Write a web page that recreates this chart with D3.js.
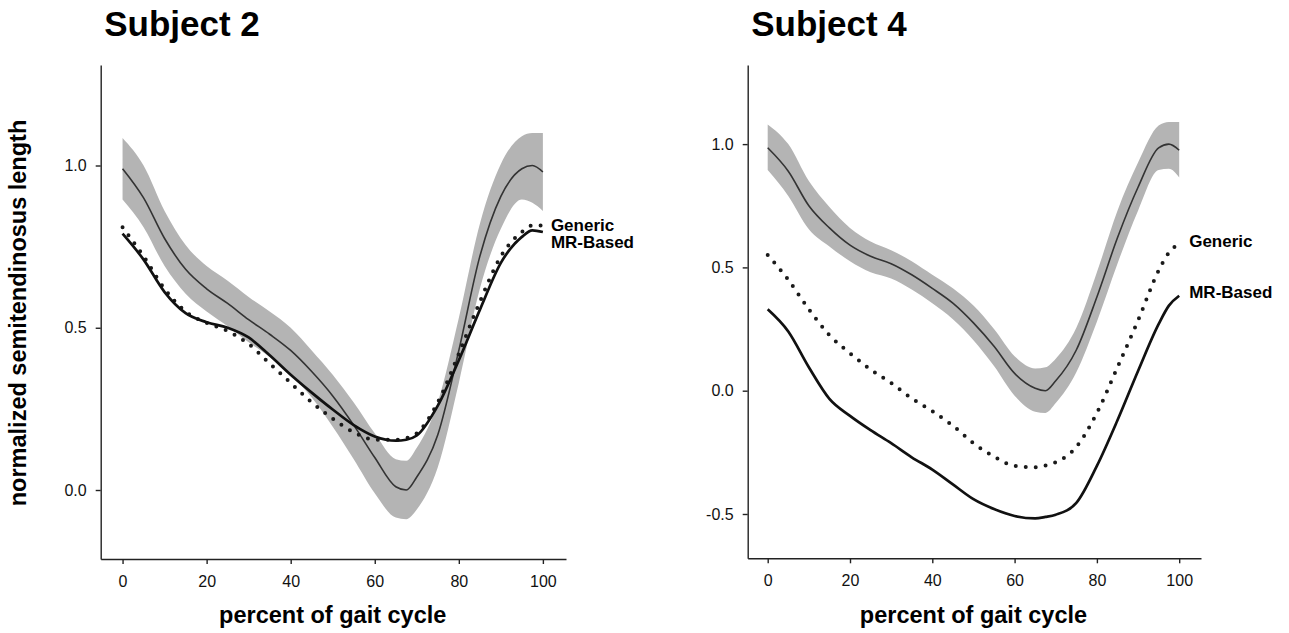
<!DOCTYPE html>
<html>
<head>
<meta charset="utf-8">
<script src="https://cdn.jsdelivr.net/npm/d3@7"></script>
<style>
  body { margin: 0; background: #fff; }
  svg { display: block; font-family: "Liberation Sans", Arial, Helvetica, sans-serif; }
  .tick text { font-family: "Liberation Sans", Arial, Helvetica, sans-serif; font-size: 16px; fill: #111; }
  .domain, .tick line { stroke: #222; stroke-width: 1.4; }
</style>
</head>
<body>
<svg id="chart" width="1289" height="633"></svg>
<script>
// percent of gait cycle (shared sample points)
const gaitPct = [0, 5, 10, 15, 20, 25, 30, 35, 40, 45, 50, 55, 60, 65, 67.5, 70, 75, 80, 85, 90, 95, 97.5, 100];
const xTicks = [0, 20, 40, 60, 80, 100];

// Subject 2
const s2Mean  = [0.99, 0.90, 0.775, 0.68, 0.62, 0.575, 0.525, 0.48, 0.43, 0.365, 0.29, 0.20, 0.10, 0.01, 0.0, 0.04, 0.17, 0.43, 0.72, 0.905, 0.99, 1.0, 0.98];
const s2Upper = [1.085, 1.0, 0.86, 0.755, 0.69, 0.645, 0.595, 0.55, 0.50, 0.43, 0.355, 0.27, 0.175, 0.095, 0.09, 0.13, 0.27, 0.53, 0.82, 1.005, 1.09, 1.10, 1.10];
const s2Lower = [0.895, 0.81, 0.69, 0.605, 0.55, 0.505, 0.455, 0.41, 0.355, 0.285, 0.195, 0.095, -0.01, -0.085, -0.09, -0.06, 0.07, 0.33, 0.62, 0.805, 0.895, 0.885, 0.86];
const s2Generic = [0.81, 0.72, 0.62, 0.55, 0.515, 0.49, 0.45, 0.39, 0.33, 0.27, 0.22, 0.178, 0.155, 0.155, 0.16, 0.175, 0.27, 0.42, 0.58, 0.72, 0.795, 0.815, 0.815];
const s2MR      = [0.79, 0.71, 0.61, 0.545, 0.517, 0.50, 0.47, 0.415, 0.355, 0.30, 0.248, 0.20, 0.165, 0.152, 0.155, 0.168, 0.26, 0.40, 0.555, 0.70, 0.78, 0.80, 0.795];

// Subject 4
const s4Mean  = [0.985, 0.89, 0.75, 0.66, 0.59, 0.545, 0.515, 0.47, 0.415, 0.355, 0.275, 0.18, 0.07, 0.01, 0.0, 0.04, 0.165, 0.38, 0.62, 0.825, 0.985, 1.0, 0.975];
const s4Upper = [1.08, 1.0, 0.85, 0.745, 0.66, 0.605, 0.57, 0.525, 0.47, 0.415, 0.345, 0.25, 0.14, 0.09, 0.095, 0.13, 0.255, 0.48, 0.73, 0.925, 1.075, 1.09, 1.09];
const s4Lower = [0.895, 0.79, 0.655, 0.585, 0.525, 0.48, 0.455, 0.41, 0.355, 0.29, 0.205, 0.10, -0.02, -0.085, -0.09, -0.05, 0.075, 0.28, 0.515, 0.73, 0.895, 0.90, 0.865];
const s4Generic = [0.55, 0.45, 0.33, 0.225, 0.152, 0.086, 0.031, -0.031, -0.083, -0.142, -0.213, -0.267, -0.305, -0.31, -0.303, -0.29, -0.228, -0.09, 0.095, 0.285, 0.487, 0.56, 0.595];
const s4MR      = [0.33, 0.24, 0.095, -0.033, -0.102, -0.16, -0.213, -0.27, -0.32, -0.38, -0.44, -0.48, -0.508, -0.518, -0.512, -0.503, -0.455, -0.305, -0.12, 0.08, 0.27, 0.345, 0.385];

const panels = [
  {
    title: "Subject 2", mean: s2Mean, upper: s2Upper, lower: s2Lower,
    generic: s2Generic, mr: s2MR,
    xRange: [100.7, 566], xDomain: [-5.2, 105.5],
    yRange: [559, 65], yDomain: [-0.2126, 1.3097],
    yTicks: [0, 0.5, 1.0], yTitle: true,
    genericDy: 5.5, mrDy: 16.3, labelDx: 8
  },
  {
    title: "Subject 4", mean: s4Mean, upper: s4Upper, lower: s4Lower,
    generic: s4Generic, mr: s4MR,
    xRange: [747.7, 1201], xDomain: [-4.86, 105.3],
    yRange: [558.3, 65], yDomain: [-0.6797, 1.3208],
    yTicks: [-0.5, 0, 0.5, 1.0], yTitle: false,
    genericDy: 2.7, mrDy: 2, labelDx: 10
  }
];

const svg = d3.select("#chart");

panels.forEach((p) => {
  const x = d3.scaleLinear().domain(p.xDomain).range(p.xRange);
  const y = d3.scaleLinear().domain(p.yDomain).range(p.yRange);
  const g = svg.append("g");

  // banda de desvio (cinza)
  const band = d3.area()
    .x((d, i) => x(gaitPct[i]))
    .y0((d, i) => y(p.lower[i]))
    .y1((d, i) => y(p.upper[i]))
    .curve(d3.curveMonotoneX);
  g.append("path").datum(p.mean).attr("d", band).attr("fill", "#b4b4b4");

  const line = (arr) => d3.line()
    .x((d, i) => x(gaitPct[i]))
    .y((d) => y(d))
    .curve(d3.curveMonotoneX)(arr);

  // média medida
  g.append("path").attr("d", line(p.mean))
    .attr("fill", "none").attr("stroke", "#333").attr("stroke-width", 1.6);

  // modelo genérico (pontilhado)
  g.append("path").attr("d", line(p.generic))
    .attr("fill", "none").attr("stroke", "#1a1a1a").attr("stroke-width", 4)
    .attr("stroke-linecap", "round").attr("stroke-dasharray", "0 10");

  // modelo MR
  g.append("path").attr("d", line(p.mr))
    .attr("fill", "none").attr("stroke", "#111").attr("stroke-width", 2.7)
    .attr("stroke-linejoin", "round");

  // eixos
  const xAxis = g.append("g")
    .attr("transform", `translate(0,${p.yRange[0]})`)
    .call(d3.axisBottom(x).tickValues(xTicks).tickSize(5).tickSizeOuter(0));
  xAxis.selectAll(".tick text").attr("y", 28).attr("dy", null);

  const yAxis = g.append("g")
    .attr("transform", `translate(${p.xRange[0]},0)`)
    .call(d3.axisLeft(y).tickValues(p.yTicks).tickFormat((d) => d.toFixed(1))
      .tickSize(5).tickSizeOuter(0));
  yAxis.selectAll(".tick text").attr("x", -14);

  // títulos
  g.append("text")
    .attr("x", p.xRange[0] + 3.5).attr("y", 36)
    .style("font-size", "35px").style("font-weight", "bold")
    .text(p.title);

  g.append("text")
    .attr("x", x(50)).attr("y", 623)
    .attr("text-anchor", "middle")
    .style("font-size", "23.5px").style("font-weight", "bold")
    .text("percent of gait cycle");

  if (p.yTitle) {
    g.append("text")
      .attr("transform", `translate(26,313) rotate(-90)`)
      .attr("text-anchor", "middle")
      .style("font-size", "23.5px").style("font-weight", "bold")
      .text("normalized semitendinosus length");
  }

  // rótulos das curvas
  const last = gaitPct.length - 1;
  g.append("text")
    .attr("x", x(100) + p.labelDx).attr("y", y(p.generic[last]) + p.genericDy)
    .style("font-size", "17px").style("font-weight", "bold")
    .text("Generic");
  g.append("text")
    .attr("x", x(100) + p.labelDx).attr("y", y(p.mr[last]) + p.mrDy)
    .style("font-size", "17px").style("font-weight", "bold")
    .text("MR-Based");
});
</script>
</body>
</html>
